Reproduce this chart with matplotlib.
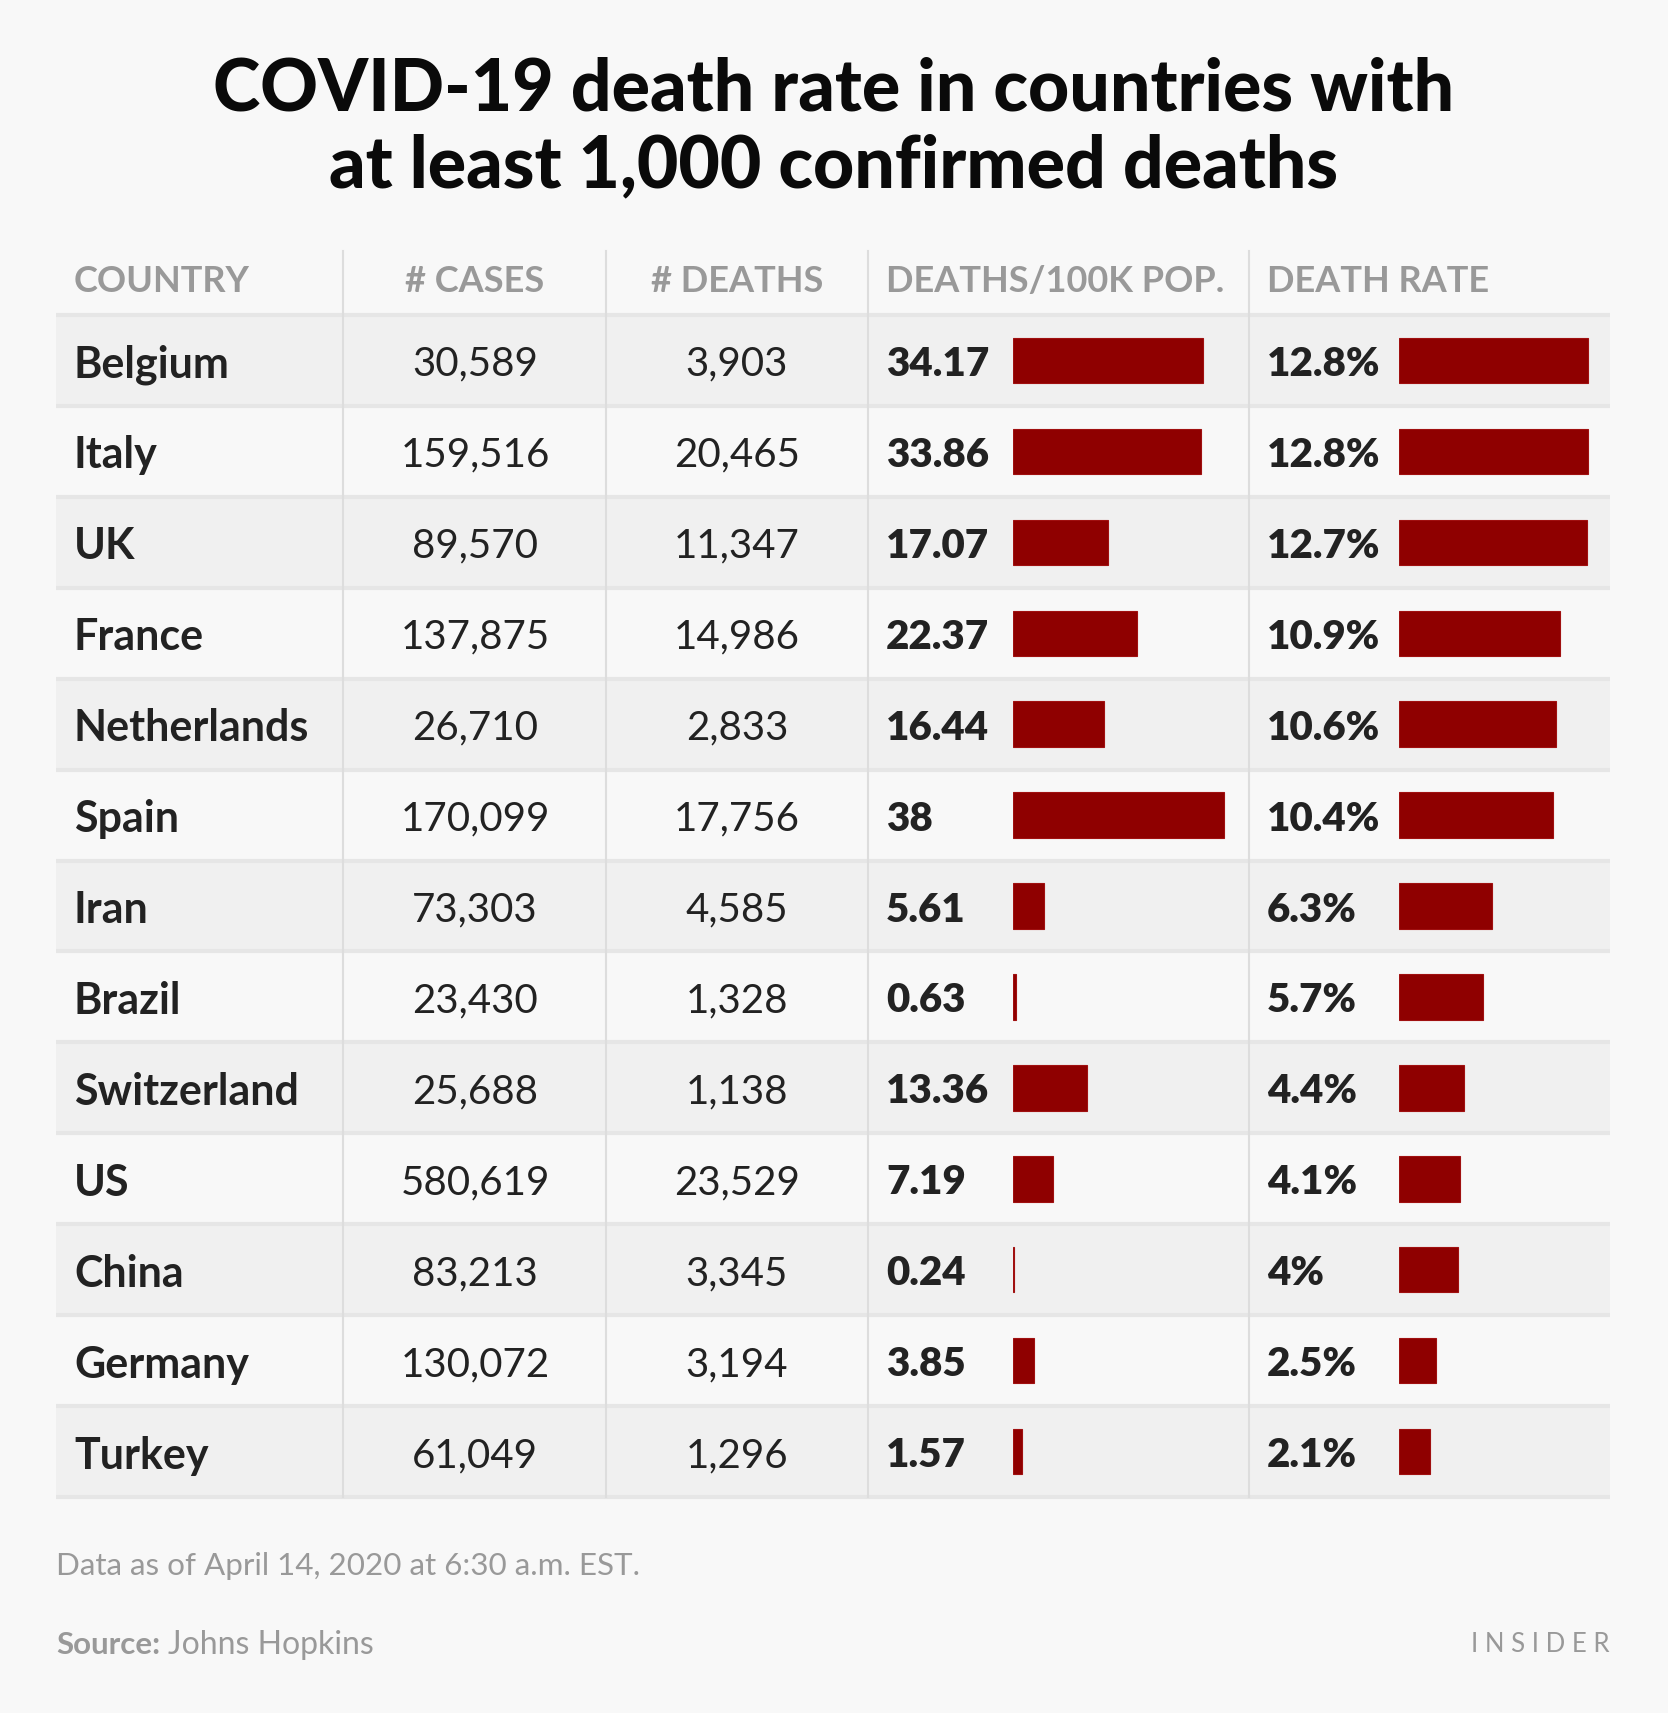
import matplotlib.pyplot as plt

countries = ["Belgium", "Italy", "UK", "France", "Netherlands", "Spain", "Iran",
             "Brazil", "Switzerland", "US", "China", "Germany", "Turkey"]
cases = [30589, 159516, 89570, 137875, 26710, 170099, 73303,
         23430, 25688, 580619, 83213, 130072, 61049]
deaths = [3903, 20465, 11347, 14986, 2833, 17756, 4585,
          1328, 1138, 23529, 3345, 3194, 1296]
per_100k = [34.17, 33.86, 17.07, 22.37, 16.44, 38, 5.61,
            0.63, 13.36, 7.19, 0.24, 3.85, 1.57]
death_rate = [12.8, 12.8, 12.7, 10.9, 10.6, 10.4, 6.3,
              5.7, 4.4, 4.1, 4, 2.5, 2.1]
headers = ["COUNTRY", "# CASES", "# DEATHS", "DEATHS/100K POP.", "DEATH RATE"]

W, H = 1668, 1713
BG = "#f8f8f8"
SHADE = "#f0f0f0"
RED = "#8f0000"
DARK = "#222222"
GREY = "#999999"
FONT = "Lato"

fig = plt.figure(figsize=(W / 100, H / 100), dpi=100, facecolor=BG)
ax = fig.add_axes([0, 0, 1, 1])
ax.set_xlim(0, W)
ax.set_ylim(H, 0)
ax.axis("off")

# table geometry (pixels)
left, right = 56, 1610
top, bottom = 315, 1497
n = len(countries)
row_h = (bottom - top) / n
seps = [343, 606, 868, 1249]
dy = 4  # text sits a little low in the row

# title
ax.text(W / 2, 90, "COVID-19 death rate in countries with", ha="center", va="center",
        fontsize=51.5, fontweight="black", family=FONT, color="#0a0a0a")
ax.text(W / 2, 167, "at least 1,000 confirmed deaths", ha="center", va="center",
        fontsize=51.5, fontweight="black", family=FONT, color="#0a0a0a")

# header
hy = 281
hfs = 26
ax.text(74, hy, headers[0], ha="left", va="center", fontsize=hfs, fontweight="bold", family=FONT, color=GREY)
ax.text(475, hy, headers[1], ha="center", va="center", fontsize=hfs, fontweight="bold", family=FONT, color=GREY)
ax.text(737, hy, headers[2], ha="center", va="center", fontsize=hfs, fontweight="bold", family=FONT, color=GREY)
ax.text(886, hy, headers[3], ha="left", va="center", fontsize=hfs, fontweight="bold", family=FONT, color=GREY)
ax.text(1267, hy, headers[4], ha="left", va="center", fontsize=hfs, fontweight="bold", family=FONT, color=GREY)

# rows
for i, c in enumerate(countries):
    y0 = top + i * row_h
    yc = y0 + row_h / 2 + dy
    if i % 2 == 0:
        ax.add_patch(plt.Rectangle((left, y0), right - left, row_h, color=SHADE, lw=0, zorder=0))
    ax.plot([left, right], [y0, y0], color="#e6e6e6", lw=3, zorder=1, solid_capstyle="butt")
    ax.text(74, yc, c, ha="left", va="center", fontsize=31, fontweight="bold", family=FONT, color=DARK)
    ax.text(475, yc, f"{cases[i]:,}", ha="center", va="center", fontsize=29, family=FONT, color=DARK)
    ax.text(737, yc, f"{deaths[i]:,}", ha="center", va="center", fontsize=29, family=FONT, color=DARK)
    ax.text(886, yc, f"{per_100k[i]:g}", ha="left", va="center", fontsize=29, fontweight="heavy", family=FONT, color=DARK)
    ax.text(1267, yc, f"{death_rate[i]:g}%", ha="left", va="center", fontsize=29, fontweight="heavy", family=FONT, color=DARK)
ax.plot([left, right], [bottom, bottom], color="#e6e6e6", lw=3, zorder=1, solid_capstyle="butt")

for sx in seps:
    ax.plot([sx, sx], [251, bottom], color="#dddddd", lw=1.5, zorder=2)

# bar columns as their own axes
def bar_axes(x0, px_per_unit, xmax, values):
    w = px_per_unit * xmax
    bax = fig.add_axes([x0 / W, 1 - bottom / H, w / W, (bottom - top) / H])
    bax.barh(range(len(values)), values, height=0.5, color=RED, edgecolor="#a01010", lw=0.8)
    bax.set_xlim(0, xmax)
    bax.set_ylim(len(values) - 0.5, -0.5)
    bax.axis("off")
    return bax

bar_axes(1013, 211 / 38, 40, per_100k)
bar_axes(1399, 189 / 12.8, 14, death_rate)

# footer
ax.text(56, 1566, "Data as of April 14, 2020 at 6:30 a.m. EST.", ha="left", va="center",
        fontsize=22.6, family=FONT, color=GREY)
src = ax.text(56, 1645, "Source:", ha="left", va="center", fontsize=22.6, fontweight="bold",
              family=FONT, color=GREY)
fig.canvas.draw()
bb = src.get_window_extent()
ax.text(bb.x1 + 8, 1645, "Johns Hopkins", ha="left", va="center", fontsize=23,
        family=FONT, color=GREY)
ax.text(1610, 1645, "I N S I D E R", ha="right", va="center", fontsize=18.5, family=FONT, color=GREY)

fig.savefig("out.png", dpi=100, facecolor=BG)
